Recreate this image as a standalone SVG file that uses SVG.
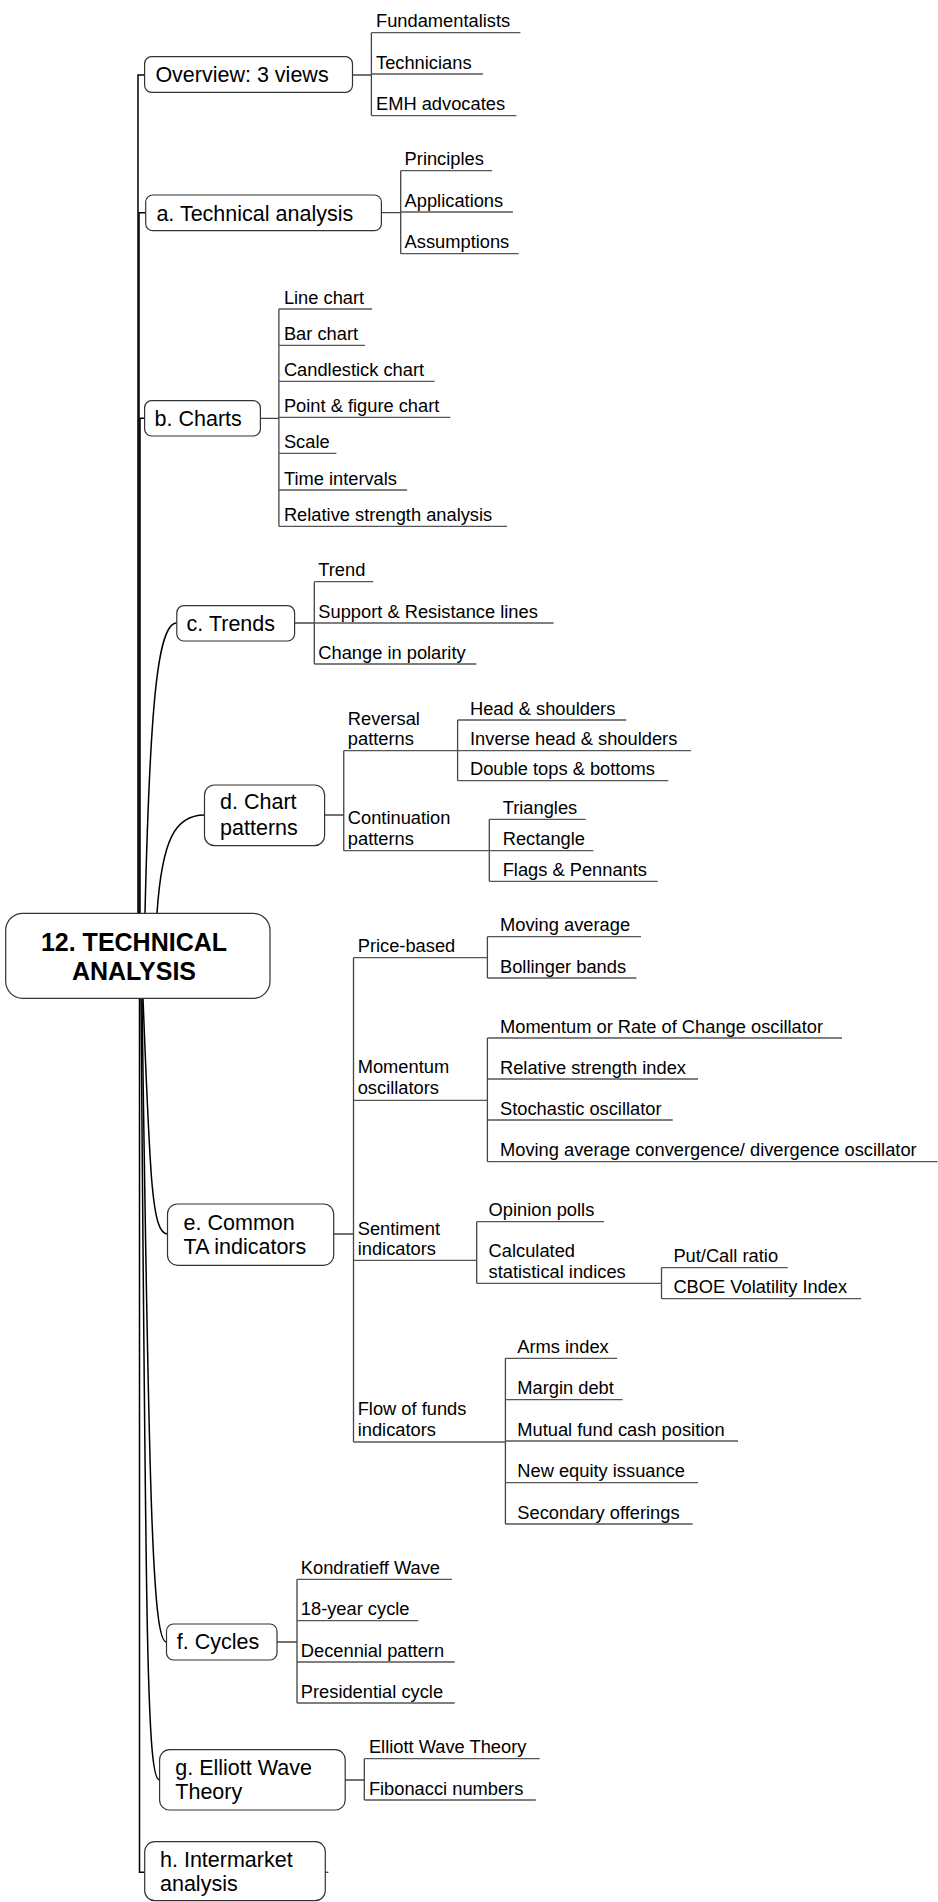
<svg xmlns="http://www.w3.org/2000/svg" width="938" height="1902" viewBox="0 0 938 1902">
<style>
  .bx { fill: #fff; stroke: #333; stroke-width: 1.2; }
  .t { font-family: "Liberation Sans", Arial, sans-serif; font-size: 21.5px; fill: #000; }
  .c { font-family: "Liberation Sans", Arial, sans-serif; font-size: 18.3px; fill: #000; }
  .root { font-family: "Liberation Sans", Arial, sans-serif; font-size: 25px; font-weight: bold; fill: #000; text-anchor: middle; }
  .ln { stroke: #444; stroke-width: 1.3; fill: none; }
  .ul { stroke: #555; stroke-width: 1.3; fill: none; }
  .tr { stroke: #000; stroke-width: 1.5; fill: none; }
</style>
<rect width="938" height="1902" fill="#fff"/>

<g id="connectors">
  <!-- trunk from root -->
  <path class="tr" d="M138,913 V75 H144.6"/>
  <path class="tr" d="M139,913 V212.7 H145.7"/>
  <path class="tr" d="M140,913 V418.3 H144.6"/>
  <path class="tr" d="M145,913 C150,700 158,623 176.8,623"/>
  <path class="tr" d="M157,913 C162,840 175,815 204.5,815"/>
  <path class="tr" d="M143,998 C150,1180 152,1234 167.5,1234"/>
  <path class="tr" d="M142,998 C149,1520 153,1642 166.5,1642"/>
  <path class="tr" d="M141,998 C146,1650 147,1780 159.6,1780"/>
  <path class="tr" d="M139.5,998 V1872.3 H144.7"/>
  <path class="ln" d="M325.3,1872.3 H328.4"/>
  <!-- overview -->
  <path class="ln" d="M352.5,75 H371.4 M371.4,32.7 V115.7"/>
  <!-- a -->
  <path class="ln" d="M381.4,212.7 H400.7 M400.7,170.7 V253.7"/>
  <!-- b -->
  <path class="ln" d="M260.4,418.3 H278.9 M278.9,309 V526.3"/>
  <!-- c -->
  <path class="ln" d="M294.6,623 H314.3 M314.3,581.7 V664"/>
  <!-- d -->
  <path class="ln" d="M324.6,815 H343.75 M343.75,750.7 V850.7"/>
  <path class="ln" d="M457.6,720 V780.7"/>
  <path class="ln" d="M489.3,819.3 V881.3"/>
  <!-- e -->
  <path class="ln" d="M333.7,1234 H353.5 M353.5,957.7 V1442"/>
  <path class="ln" d="M487.4,936.7 V978"/>
  <path class="ln" d="M487.4,1038 V1161.7"/>
  <path class="ln" d="M476.7,1221.7 V1283.3"/>
  <path class="ln" d="M661.5,1267.7 V1298.7"/>
  <path class="ln" d="M505.4,1358.3 V1524"/>
  <!-- f -->
  <path class="ln" d="M277,1642 H297 M297,1579.3 V1703"/>
  <!-- g -->
  <path class="ln" d="M345.2,1780 H364.3 M364.3,1758.7 V1800"/>
</g>

<g id="root">
  <rect class="bx" x="5.7" y="913.3" width="264.3" height="85" rx="17"/>
  <text class="root" x="134" y="951">12. TECHNICAL</text>
  <text class="root" x="134" y="980">ANALYSIS</text>
</g>

<g id="overview">
  <rect class="bx" x="144.6" y="56.7" width="207.9" height="35.6" rx="7"/>
  <text class="t" x="155.4" y="81.7">Overview: 3 views</text>
</g>
<g id="fundamentalists"><text class="c" x="376" y="27.2">Fundamentalists</text><path class="ul" d="M371.4,32.7 H520.4"/></g>
<g id="technicians"><text class="c" x="376" y="68.5">Technicians</text><path class="ul" d="M371.4,74 H482.9"/></g>
<g id="emh"><text class="c" x="376" y="110.2">EMH advocates</text><path class="ul" d="M371.4,115.7 H516.4"/></g>

<g id="a-technical-analysis">
  <rect class="bx" x="145.7" y="195" width="235.7" height="35.7" rx="7"/>
  <text class="t" x="156.4" y="220.7">a. Technical analysis</text>
</g>
<g id="principles"><text class="c" x="404.6" y="165.2">Principles</text><path class="ul" d="M400.7,170.7 H492.1"/></g>
<g id="applications"><text class="c" x="404.6" y="206.5">Applications</text><path class="ul" d="M400.7,212 H512.9"/></g>
<g id="assumptions"><text class="c" x="404.6" y="248.2">Assumptions</text><path class="ul" d="M400.7,253.7 H518.6"/></g>

<g id="b-charts">
  <rect class="bx" x="144.6" y="400.7" width="115.8" height="35.3" rx="7"/>
  <text class="t" x="154.6" y="425.7">b. Charts</text>
</g>
<g id="line-chart"><text class="c" x="283.9" y="303.5">Line chart</text><path class="ul" d="M278.9,309 H372.1"/></g>
<g id="bar-chart"><text class="c" x="283.9" y="339.8">Bar chart</text><path class="ul" d="M278.9,345.3 H365"/></g>
<g id="candlestick-chart"><text class="c" x="283.9" y="375.8">Candlestick chart</text><path class="ul" d="M278.9,381.3 H434.6"/></g>
<g id="point-figure-chart"><text class="c" x="283.9" y="411.8">Point &amp; figure chart</text><path class="ul" d="M278.9,417.3 H450.4"/></g>
<g id="scale"><text class="c" x="283.9" y="447.8">Scale</text><path class="ul" d="M278.9,453.3 H336.4"/></g>
<g id="time-intervals"><text class="c" x="283.9" y="484.5">Time intervals</text><path class="ul" d="M278.9,490 H407.1"/></g>
<g id="relative-strength-analysis"><text class="c" x="283.9" y="520.8">Relative strength analysis</text><path class="ul" d="M278.9,526.3 H507.1"/></g>

<g id="c-trends">
  <rect class="bx" x="176.8" y="605.7" width="117.8" height="35.3" rx="7"/>
  <text class="t" x="186.6" y="630.7">c. Trends</text>
</g>
<g id="trend"><text class="c" x="318.3" y="576.2">Trend</text><path class="ul" d="M314.3,581.7 H373.2"/></g>
<g id="support-resistance"><text class="c" x="318.3" y="617.5">Support &amp; Resistance lines</text><path class="ul" d="M314.3,623 H553.6"/></g>
<g id="change-in-polarity"><text class="c" x="318.3" y="658.5">Change in polarity</text><path class="ul" d="M314.3,664 H476.3"/></g>

<g id="d-chart-patterns">
  <rect class="bx" x="204.5" y="785" width="120.1" height="60.7" rx="10"/>
  <text class="t" x="220.1" y="809.3">d. Chart</text>
  <text class="t" x="220.1" y="835">patterns</text>
</g>
<g id="reversal-patterns">
  <text class="c" x="347.8" y="725">Reversal</text>
  <text class="c" x="347.8" y="745">patterns</text>
  <path class="ul" d="M343.75,750.7 H457.6"/>
</g>
<g id="head-shoulders"><text class="c" x="470" y="714.5">Head &amp; shoulders</text><path class="ul" d="M457.6,720 H626.3"/></g>
<g id="inverse-head-shoulders"><text class="c" x="470" y="745.2">Inverse head &amp; shoulders</text><path class="ul" d="M457.6,750.7 H691"/></g>
<g id="double-tops-bottoms"><text class="c" x="470" y="775.2">Double tops &amp; bottoms</text><path class="ul" d="M457.6,780.7 H668.3"/></g>
<g id="continuation-patterns">
  <text class="c" x="347.8" y="824">Continuation</text>
  <text class="c" x="347.8" y="845">patterns</text>
  <path class="ul" d="M343.75,850.7 H489.3"/>
</g>
<g id="triangles"><text class="c" x="502.7" y="813.8">Triangles</text><path class="ul" d="M489.3,819.3 H585.7"/></g>
<g id="rectangle"><text class="c" x="502.7" y="845.2">Rectangle</text><path class="ul" d="M489.3,850.7 H593.3"/></g>
<g id="flags-pennants"><text class="c" x="502.7" y="875.8">Flags &amp; Pennants</text><path class="ul" d="M489.3,881.3 H657.7"/></g>

<g id="e-common-ta-indicators">
  <rect class="bx" x="167.5" y="1204" width="166.2" height="61.3" rx="10"/>
  <text class="t" x="183.6" y="1230">e. Common</text>
  <text class="t" x="183.6" y="1254">TA indicators</text>
</g>
<g id="price-based"><text class="c" x="357.7" y="952.3">Price-based</text><path class="ul" d="M353.5,957.7 H487.4"/></g>
<g id="moving-average"><text class="c" x="500" y="931.2">Moving average</text><path class="ul" d="M487.4,936.7 H641"/></g>
<g id="bollinger-bands"><text class="c" x="500" y="972.5">Bollinger bands</text><path class="ul" d="M487.4,978 H636.4"/></g>
<g id="momentum-oscillators">
  <text class="c" x="357.7" y="1072.7">Momentum</text>
  <text class="c" x="357.7" y="1094.3">oscillators</text>
  <path class="ul" d="M353.5,1100.3 H487.4"/>
</g>
<g id="momentum-roc"><text class="c" x="500" y="1032.5">Momentum or Rate of Change oscillator</text><path class="ul" d="M487.4,1038 H842"/></g>
<g id="rsi"><text class="c" x="500" y="1073.5">Relative strength index</text><path class="ul" d="M487.4,1079 H698"/></g>
<g id="stochastic"><text class="c" x="500" y="1114.5">Stochastic oscillator</text><path class="ul" d="M487.4,1120 H672.8"/></g>
<g id="macd"><text class="c" x="500" y="1156.2">Moving average convergence/ divergence oscillator</text><path class="ul" d="M487.4,1161.7 H937.5"/></g>
<g id="sentiment-indicators">
  <text class="c" x="357.7" y="1235">Sentiment</text>
  <text class="c" x="357.7" y="1255">indicators</text>
  <path class="ul" d="M353.5,1260.3 H476.7"/>
</g>
<g id="opinion-polls"><text class="c" x="488.6" y="1216.2">Opinion polls</text><path class="ul" d="M476.7,1221.7 H604"/></g>
<g id="calculated-statistical-indices">
  <text class="c" x="488.6" y="1257.3">Calculated</text>
  <text class="c" x="488.6" y="1277.7">statistical indices</text>
  <path class="ul" d="M476.7,1283.3 H661.5"/>
</g>
<g id="put-call-ratio"><text class="c" x="673.4" y="1262.2">Put/Call ratio</text><path class="ul" d="M661.5,1267.7 H787.7"/></g>
<g id="cboe-vix"><text class="c" x="673.4" y="1293.2">CBOE Volatility Index</text><path class="ul" d="M661.5,1298.7 H861.2"/></g>
<g id="flow-of-funds-indicators">
  <text class="c" x="357.7" y="1415">Flow of funds</text>
  <text class="c" x="357.7" y="1436">indicators</text>
  <path class="ul" d="M353.5,1442 H505.4"/>
</g>
<g id="arms-index"><text class="c" x="517.3" y="1352.8">Arms index</text><path class="ul" d="M505.4,1358.3 H617.2"/></g>
<g id="margin-debt"><text class="c" x="517.3" y="1394.2">Margin debt</text><path class="ul" d="M505.4,1399.7 H622.6"/></g>
<g id="mutual-fund-cash"><text class="c" x="517.3" y="1435.5">Mutual fund cash position</text><path class="ul" d="M505.4,1441 H738"/></g>
<g id="new-equity-issuance"><text class="c" x="517.3" y="1477.2">New equity issuance</text><path class="ul" d="M505.4,1482.7 H698"/></g>
<g id="secondary-offerings"><text class="c" x="517.3" y="1518.5">Secondary offerings</text><path class="ul" d="M505.4,1524 H692.6"/></g>

<g id="f-cycles">
  <rect class="bx" x="166.5" y="1624" width="110.5" height="36" rx="7"/>
  <text class="t" x="176.8" y="1649.3">f. Cycles</text>
</g>
<g id="kondratieff-wave"><text class="c" x="300.8" y="1573.8">Kondratieff Wave</text><path class="ul" d="M297,1579.3 H452"/></g>
<g id="eighteen-year-cycle"><text class="c" x="300.8" y="1615.2">18-year cycle</text><path class="ul" d="M297,1620.7 H418.3"/></g>
<g id="decennial-pattern"><text class="c" x="300.8" y="1656.5">Decennial pattern</text><path class="ul" d="M297,1662 H454.7"/></g>
<g id="presidential-cycle"><text class="c" x="300.8" y="1697.5">Presidential cycle</text><path class="ul" d="M297,1703 H454.7"/></g>

<g id="g-elliott-wave-theory">
  <rect class="bx" x="159.6" y="1749.7" width="185.6" height="60.3" rx="10"/>
  <text class="t" x="175.3" y="1775">g. Elliott Wave</text>
  <text class="t" x="175.3" y="1799.3">Theory</text>
</g>
<g id="elliott-wave-theory"><text class="c" x="368.9" y="1753.2">Elliott Wave Theory</text><path class="ul" d="M364.3,1758.7 H539.6"/></g>
<g id="fibonacci-numbers"><text class="c" x="368.9" y="1794.5">Fibonacci numbers</text><path class="ul" d="M364.3,1800 H535.8"/></g>

<g id="h-intermarket-analysis">
  <rect class="bx" x="144.7" y="1841.7" width="180.6" height="59" rx="10"/>
  <text class="t" x="160" y="1866.7">h. Intermarket</text>
  <text class="t" x="160" y="1890.7">analysis</text>
</g>
</svg>
